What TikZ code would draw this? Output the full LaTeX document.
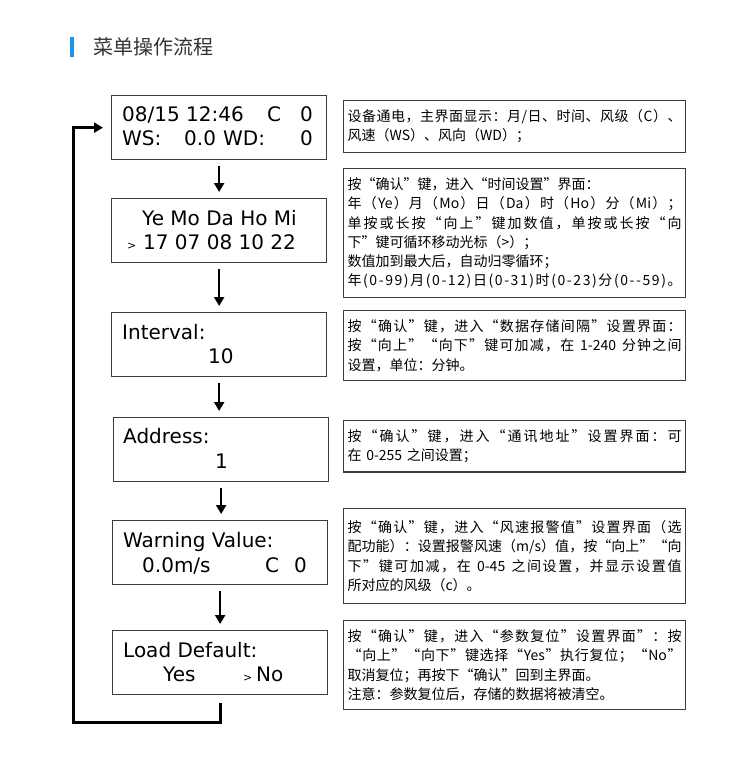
\documentclass[tikz,border=0pt]{standalone}
\usepackage{fontspec}
\setmainfont{DejaVu Sans}
\newfontfamily\cjk{Noto Sans CJK SC}
\newfontfamily\lcdfont{DejaVu Sans}
\usetikzlibrary{arrows.meta,positioning,calc}

\definecolor{titleblue}{HTML}{1E96E6}
\definecolor{titlegray}{HTML}{333333}
\definecolor{boxgray}{HTML}{3C3C3C}

\newlength{\descwd}
\setlength{\descwd}{334pt}
% a wrapped line, spread to the full width of its box
\ExplSyntaxOn
\NewDocumentCommand{\jline}{m}
  {\makebox[\descwd][s]{\tl_map_inline:nn {#1} {##1\hfil}\unskip}}
\ExplSyntaxOff
\newcommand{\lcdcell}[2]{\makebox[#1][l]{#2}}
\newcommand{\cursor}{{\fontsize{11}{11}\selectfont >}}

\tikzset{
  lcdbox/.style={draw=boxgray, line width=1.3pt, anchor=north west,
    minimum width=215pt, minimum height=64pt, inner sep=0pt},
  lcdtxt/.style={anchor=base west, inner sep=0pt,
    font=\lcdfont\fontsize{20}{24}\selectfont},
  descbox/.style={draw=boxgray, line width=1.2pt, anchor=north west,
    text width=\descwd, align=left, inner xsep=4pt, inner ysep=9pt,
    font=\cjk\fontsize{14}{19.3}\selectfont},
  flowarrow/.style={line width=2.6pt, -{Triangle[width=10pt,length=9pt]},
    shorten <=6pt, shorten >=6pt},
  loopline/.style={line width=3pt, -{Triangle[width=10pt,length=9pt]},
    shorten <=8pt, shorten >=8pt}
}

\begin{document}
\begin{tikzpicture}[x=1pt,y=-1pt]
  \useasboundingbox[fill=white] (0,0) rectangle (750,769);

  % Title.
  \fill[titleblue] (70,37) rectangle (74,57);
  \node[font=\cjk\fontsize{20}{24}\selectfont, text=titlegray,
    anchor=west, inner sep=0pt] (title) at (93,47) {菜单操作流程};

  % Screens.
  \node[lcdbox] (lcd1) at (111,95) {};
  \node[lcdbox] (lcd2) at (111,198) {};
  \node[lcdbox] (lcd3) at (111,312) {};
  \node[lcdbox] (lcd4) at (113,417) {};
  \node[lcdbox] (lcd5) at (112,520) {};
  \node[lcdbox] (lcd6) at (112,630) {};

  \node[lcdtxt] (lcd1a) at (122,121)
    {\lcdcell{145pt}{08/15 12:46}\lcdcell{33pt}{C}0};
  \node[lcdtxt] (lcd1b) at (122,145)
    {\lcdcell{62pt}{WS:}\lcdcell{39pt}{0.0}\lcdcell{77pt}{WD:}0};
  \node[lcdtxt] (lcd2a) at (142,225) {Ye Mo Da Ho Mi};
  \node[lcdtxt] (lcd2b) at (143,249) {17 07 08 10 22};
  \node[lcdtxt] (lcd2c) at (127,249) {\cursor};
  \node[lcdtxt] (lcd3a) at (122,339) {Interval:};
  \node[lcdtxt] (lcd3b) at (208,363) {10};
  \node[lcdtxt] (lcd4a) at (123,443) {Address:};
  \node[lcdtxt] (lcd4b) at (215,468) {1};
  \node[lcdtxt] (lcd5a) at (123,547) {Warning Value:};
  \node[lcdtxt] (lcd5b) at (142,572)
    {\lcdcell{123pt}{0.0m/s}\lcdcell{29pt}{C}0};
  \node[lcdtxt] (lcd6a) at (123,657) {Load Default:};
  \node[lcdtxt] (lcd6b) at (163,681) {\lcdcell{80pt}{Yes}\cursor};
  \node[lcdtxt] (lcd6c) at (256,681) {No};

  % Steps, and back to the main screen.
  \foreach \a/\b in {1/2,2/3,3/4,4/5,5/6}
    \draw[flowarrow] (lcd\a.south) -- (lcd\a.south |- lcd\b.north);
  \coordinate (loopcorner) at (73,722);
  \draw[loopline] (lcd6.south) |- (loopcorner) |- (lcd1.west);

  % Notes.
  \node[descbox] (desc1) at (343,100) {%
    \jline{设备通电，主界面显示：月/日、时间、风级（C）、}\\
    风速（WS）、风向（WD）；};
  \node[descbox] (desc2) at (343,168) {%
    按“确认”键，进入“时间设置”界面：\\
    \jline{年（{Ye}）月（{Mo}）日（{Da}）时（{Ho}）分（{Mi}）；}\\
    \jline{单按或长按“向上”键加数值，单按或长按“向}\\
    下”键可循环移动光标（>）；\\
    数值加到最大后，自动归零循环；\\
    \jline{年(0-99)月(0-12)日(0-31)时(0-23)分(0--59)。}};
  \node[descbox] (desc3) at (343,310) {%
    \jline{按“确认”键，进入“数据存储间隔”设置界面：}\\
    \jline{按“向上”“向下”键可加减，在{ 1-240 }分钟之间}\\
    设置，单位：分钟。};
  \node[descbox] (desc4) at (343,420) {%
    \jline{按“确认”键，进入“通讯地址”设置界面：可}\\
    在 0-255 之间设置；};
  \node[descbox, minimum height=95pt] (desc5) at (343,508) {%
    \jline{按“确认”键，进入“风速报警值”设置界面（选}\\
    \jline{配功能）：设置报警风速（{m/s}）值，按“向上”“向}\\
    \jline{下”键可加减，在{ 0-45 }之间设置，并显示设置值}\\
    所对应的风级（c）。};
  \node[descbox] (desc6) at (343,620) {%
    \jline{按“确认”键，进入“参数复位”设置界面”：按}\\
    \jline{“向上”“向下”键选择“{Yes}”执行复位；“{No}”}\\
    取消复位；再按下“确认”回到主界面。\\
    注意：参数复位后，存储的数据将被清空。};
\end{tikzpicture}
\end{document}
